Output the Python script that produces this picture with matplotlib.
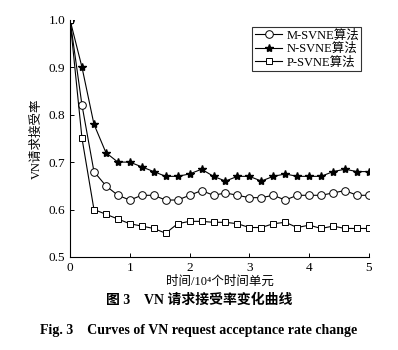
import matplotlib
matplotlib.use("Agg")
import matplotlib.pyplot as plt

plt.rcParams['font.family'] = ['Liberation Serif', 'Noto Sans CJK SC']

# time axis (10^4 time units)
t = [0.0, 0.2, 0.4, 0.6, 0.8, 1.0, 1.2, 1.4, 1.6, 1.8, 2.0, 2.2, 2.4,
     2.6, 2.8, 3.0, 3.2, 3.4, 3.6, 3.8, 4.0, 4.2, 4.4, 4.6, 4.8, 5.0]

m_svne = [1.0, 0.82, 0.68, 0.65, 0.63, 0.62, 0.63, 0.63, 0.62, 0.62, 0.63, 0.64, 0.63,
          0.635, 0.63, 0.625, 0.625, 0.63, 0.62, 0.63, 0.63, 0.63, 0.635, 0.64, 0.63, 0.63]
n_svne = [1.0, 0.90, 0.78, 0.72, 0.70, 0.70, 0.69, 0.68, 0.67, 0.67, 0.675, 0.685, 0.67,
          0.66, 0.67, 0.67, 0.66, 0.67, 0.675, 0.67, 0.67, 0.67, 0.68, 0.685, 0.68, 0.68]
p_svne = [1.0, 0.75, 0.60, 0.59, 0.58, 0.57, 0.565, 0.56, 0.55, 0.57, 0.575, 0.575, 0.573,
          0.573, 0.57, 0.562, 0.562, 0.57, 0.573, 0.562, 0.567, 0.56, 0.565, 0.56, 0.56, 0.56]

labels = ["M-SVNE算法", "N-SVNE算法", "P-SVNE算法"]
xticks = [0, 1, 2, 3, 4, 5]
yticks = [0.5, 0.6, 0.7, 0.8, 0.9, 1.0]

fig = plt.figure(figsize=(3.98, 3.5), dpi=100)
ax = fig.add_axes([0.176, 0.266, 0.751, 0.677])

ax.plot(t, m_svne, color='black', lw=0.8, marker='o', ms=5.5, mfc='white', mec='black', mew=0.7, label=labels[0])
ax.plot(t, n_svne, color='black', lw=0.8, marker='*', ms=6, mfc='black', mec='black', label=labels[1])
ax.plot(t, p_svne, color='black', lw=0.8, marker='s', ms=5, mfc='white', mec='black', mew=0.7, label=labels[2])

ax.set_xlim(0, 5)
ax.set_ylim(0.5, 1.0)
ax.set_xticks(xticks)
ax.set_xticklabels([str(v) for v in xticks])
ax.set_yticks(yticks)
ax.set_yticklabels(["%.1f" % v for v in yticks])
ax.tick_params(direction='in', length=3, width=0.7, labelsize=9.5, colors='black')
ax.spines['top'].set_visible(False)
ax.spines['right'].set_visible(False)
for s in ['left', 'bottom']:
    ax.spines[s].set_linewidth(0.8)

ax.set_xlabel("时间/10⁴个时间单元", fontsize=9, labelpad=1)
ax.set_ylabel("VN请求接受率", fontsize=9, labelpad=4)

leg = ax.legend(loc='upper right', bbox_to_anchor=(0.975, 0.97), fontsize=9,
                frameon=True, fancybox=False, edgecolor='black', handlelength=2.2,
                borderpad=0.2, labelspacing=0.1, handletextpad=0.3, borderaxespad=0)
leg.get_frame().set_linewidth(0.8)

fig.text(0.5, 0.142, "图 3    VN 请求接受率变化曲线", ha='center', va='center',
         fontsize=10, fontweight='bold')
fig.text(0.5, 0.055, "Fig. 3    Curves of VN request acceptance rate change", ha='center', va='center',
         fontsize=10, fontweight='bold')

fig.savefig("out.png", dpi=100)
